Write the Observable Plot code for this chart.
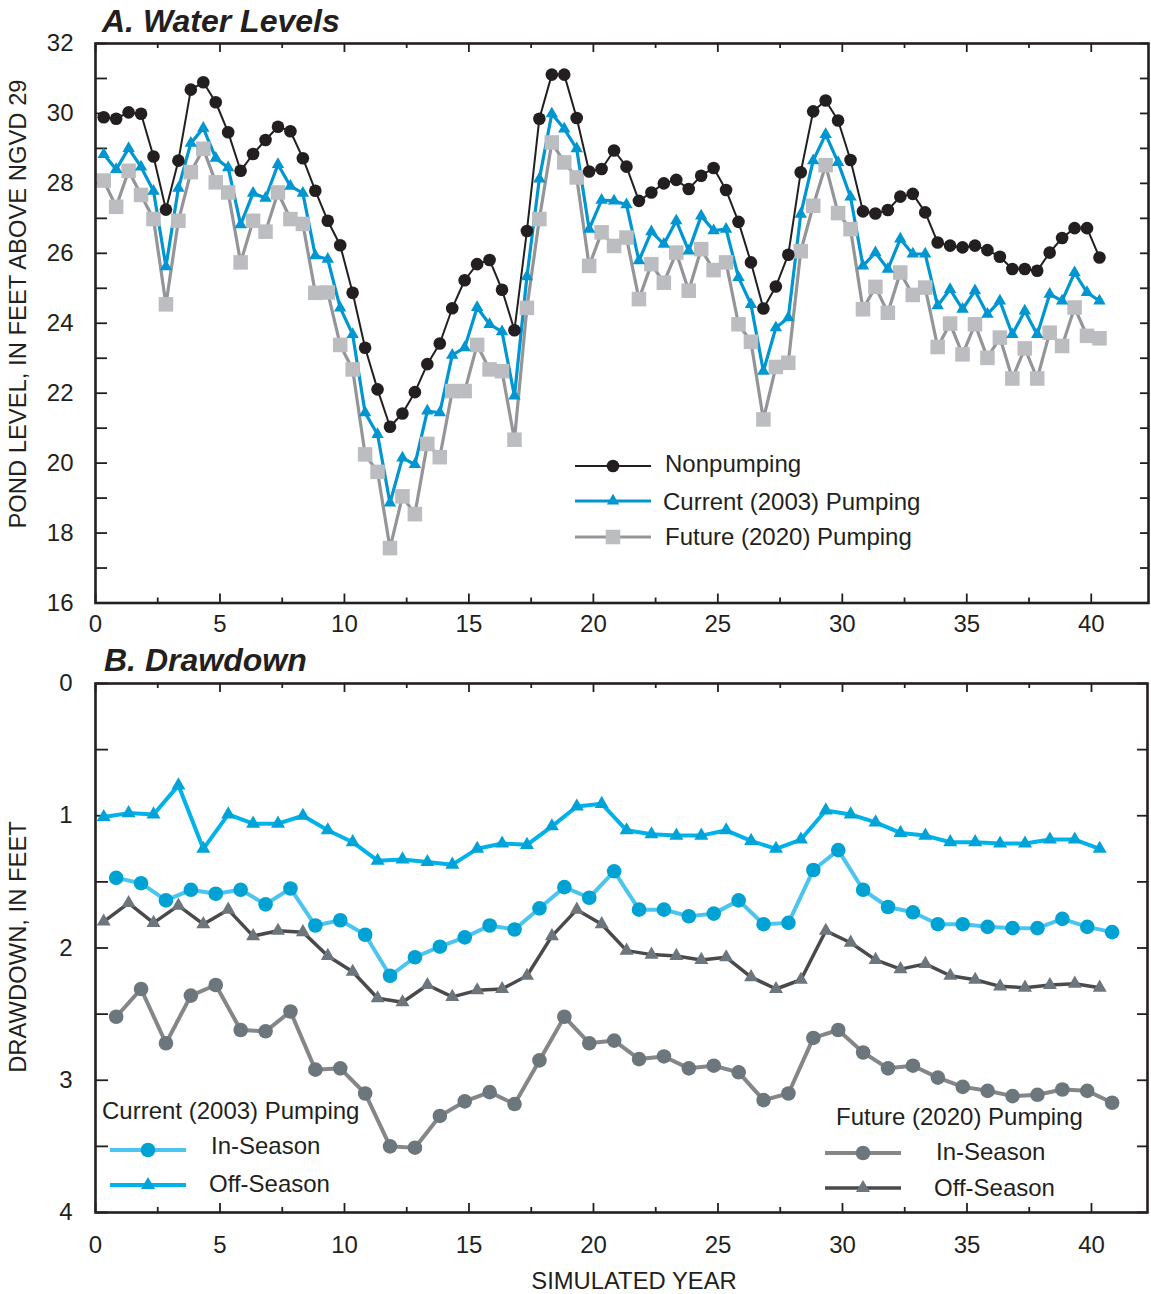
<!DOCTYPE html>
<html><head><meta charset="utf-8">
<script src="https://cdn.jsdelivr.net/npm/d3@7"></script>
<script src="https://cdn.jsdelivr.net/npm/@observablehq/plot@0.6"></script>
<style>
body{margin:0;background:#fff;}
#wrap{position:relative;width:1151px;height:1294px;font-family:"Liberation Sans",Arial,Helvetica,sans-serif;color:#231f20;overflow:hidden;background:#fff;}
#wrap svg{position:absolute;left:0;}
.t{position:absolute;white-space:nowrap;line-height:1;transform:translateY(-50%);}
.rot{position:absolute;white-space:nowrap;line-height:1;transform:translate(-50%,-50%) rotate(-90deg);}
</style></head><body><div id="wrap"></div>
<script>
// ---------- DATA ----------
// Panel A: simulated time (years), half-year steps
const yearsA = [0.33,0.83,1.33,1.83,2.33,2.83,3.33,3.83,4.33,4.83,
  5.33,5.83,6.33,6.83,7.33,7.83,8.33,8.83,9.33,9.83,
  10.33,10.83,11.33,11.83,12.33,12.83,13.33,13.83,14.33,14.83,
  15.33,15.83,16.33,16.83,17.33,17.83,18.33,18.83,19.33,19.83,
  20.33,20.83,21.33,21.83,22.33,22.83,23.33,23.83,24.33,24.83,
  25.33,25.83,26.33,26.83,27.33,27.83,28.33,28.83,29.33,29.83,
  30.33,30.83,31.33,31.83,32.33,32.83,33.33,33.83,34.33,34.83,
  35.33,35.83,36.33,36.83,37.33,37.83,38.33,38.83,39.33,39.83,
  40.33];
const nonpumping = [29.89,29.85,30.03,29.99,28.77,27.25,28.65,30.68,30.89,30.32,
  29.46,28.36,28.84,29.24,29.62,29.49,28.72,27.79,26.93,26.23,
  24.87,23.30,22.11,21.04,21.42,22.03,22.83,23.42,24.43,25.23,
  25.69,25.81,24.96,23.80,26.64,29.85,31.11,31.11,29.87,28.34,
  28.41,28.94,28.48,27.50,27.74,28.00,28.10,27.84,28.22,28.44,
  27.81,26.90,25.74,24.42,25.05,25.96,28.32,30.06,30.37,29.80,
  28.67,27.20,27.14,27.24,27.62,27.70,27.17,26.31,26.22,26.17,
  26.22,26.09,25.90,25.55,25.55,25.50,26.02,26.44,26.72,26.72,
  25.88];
const currentPumping = [28.83,28.40,29.00,28.47,27.78,25.62,27.86,29.15,29.58,28.72,
  28.45,26.82,27.72,27.58,28.54,27.92,27.72,25.93,25.83,24.44,
  23.68,21.44,20.82,18.86,20.15,19.96,21.49,21.44,23.09,23.30,
  24.45,23.97,23.76,21.92,25.33,28.13,29.99,29.56,28.99,26.69,
  27.52,27.50,27.39,25.79,26.62,26.26,26.93,26.07,27.07,26.65,
  26.69,25.31,24.54,22.63,23.87,24.16,27.12,28.65,29.40,28.60,
  27.61,25.64,26.02,25.55,26.41,25.98,25.98,24.50,24.97,24.40,
  24.93,24.26,24.64,23.68,24.35,23.68,24.83,24.64,25.45,24.88,
  24.64];
const futurePumping = [28.08,27.33,28.36,27.67,26.98,24.54,26.93,28.32,28.99,28.03,
  27.74,25.74,26.93,26.62,27.74,26.98,26.84,24.87,24.88,23.38,
  22.68,20.25,19.75,17.57,19.05,18.54,20.55,20.17,22.06,22.06,
  23.38,22.68,22.63,20.67,24.44,26.98,29.17,28.60,28.17,25.64,
  26.60,26.21,26.45,24.69,25.69,25.16,26.02,24.93,26.12,25.52,
  25.74,23.97,23.47,21.25,22.75,22.87,26.06,27.36,28.52,27.15,
  26.69,24.40,25.04,24.30,25.45,24.81,25.02,23.32,23.99,23.11,
  23.97,23.01,23.59,22.42,23.28,22.42,23.73,23.35,24.45,23.64,
  23.57];

// Panel B: drawdown, in feet
const yearsOff = [0.33,1.33,2.33,3.33,4.33,5.33,6.33,7.33,8.33,9.33,
  10.33,11.33,12.33,13.33,14.33,15.33,16.33,17.33,18.33,19.33,
  20.33,21.33,22.33,23.33,24.33,25.33,26.33,27.33,28.33,29.33,
  30.33,31.33,32.33,33.33,34.33,35.33,36.33,37.33,38.33,39.33,40.33];
const yearsIn = [0.83,1.83,2.83,3.83,4.83,5.83,6.83,7.83,8.83,9.83,
  10.83,11.83,12.83,13.83,14.83,15.83,16.83,17.83,18.83,19.83,
  20.83,21.83,22.83,23.83,24.83,25.83,26.83,27.83,28.83,29.83,
  30.83,31.83,32.83,33.83,34.83,35.83,36.83,37.83,38.83,39.83,40.83];
const currentOffSeason = [1.01,0.98,0.99,0.77,1.25,0.99,1.06,1.06,1.00,1.11,
  1.20,1.34,1.33,1.35,1.37,1.25,1.21,1.22,1.08,0.93,
  0.91,1.11,1.14,1.15,1.15,1.11,1.19,1.25,1.18,0.96,
  0.99,1.05,1.13,1.15,1.20,1.20,1.21,1.21,1.18,1.18,1.25];
const currentInSeason = [1.47,1.51,1.64,1.56,1.59,1.56,1.67,1.55,1.83,1.79,
  1.90,2.21,2.07,1.99,1.92,1.83,1.86,1.70,1.54,1.62,
  1.42,1.71,1.71,1.76,1.74,1.64,1.82,1.81,1.41,1.26,
  1.56,1.69,1.73,1.82,1.82,1.84,1.85,1.85,1.78,1.84,1.88];
const futureOffSeason = [1.80,1.66,1.81,1.68,1.82,1.71,1.91,1.87,1.88,2.06,
  2.18,2.38,2.41,2.28,2.37,2.32,2.31,2.21,1.91,1.71,
  1.82,2.02,2.05,2.06,2.09,2.07,2.22,2.31,2.24,1.87,
  1.96,2.09,2.16,2.12,2.21,2.24,2.29,2.30,2.28,2.27,2.30];
const futureInSeason = [2.52,2.31,2.72,2.36,2.28,2.62,2.63,2.48,2.92,2.91,
  3.10,3.50,3.51,3.27,3.16,3.09,3.18,2.85,2.52,2.72,
  2.70,2.84,2.82,2.91,2.89,2.94,3.15,3.10,2.68,2.62,
  2.79,2.91,2.89,2.98,3.05,3.08,3.12,3.11,3.07,3.08,3.17];

// Tick values and labels
const xTickLabels = [0,5,10,15,20,25,30,35,40];
const xMinorTicks = [2.5,7.5,12.5,17.5,22.5,27.5,32.5,37.5];
const yTicksA = [16,17,18,19,20,21,22,23,24,25,26,27,28,29,30,31,32];
const yLabelsA = [16,18,20,22,24,26,28,30,32];
const yTicksB = [0,0.5,1,1.5,2,2.5,3,3.5,4];
const yLabelsB = [0,1,2,3,4];

// ---------- STYLE ----------
const INK = "#231f20";
const COL = {
  black: "#231f20", blue: "#0096d2", greyLine: "#939598", greySq: "#bcbdc0",
  curInLine: "#4bc5f0", curIn: "#00a2d4", curOffLine: "#00b2ea", curOff: "#00a3d7",
  futInLine: "#848688", futIn: "#6c777d", futOffLine: "#4a4a4c", futOff: "#6c767c"
};
const FONT = '"Liberation Sans", Arial, Helvetica, sans-serif';
const W = 1151;
const X0 = 95, X1 = 1148;
const XDOM = [0, 42.3];
const fmtInt = d => String(d);

const wrap = document.getElementById("wrap");
const pts = (xs, ys) => xs.map((x, i) => ({x, y: ys[i]}));

function frameTicks(h, w, yTicks, lenL, lenR) {
  return [
    Plot.tickX(xTickLabels, {x: d => d, insetTop: h - 9, stroke: INK, strokeWidth: 1.8}),
    Plot.tickX(xMinorTicks, {x: d => d, insetTop: h - 5, stroke: INK, strokeWidth: 1.8}),
    Plot.tickX(xTickLabels, {x: d => d, insetBottom: h - 9, stroke: INK, strokeWidth: 1.8}),
    Plot.tickX(xMinorTicks, {x: d => d, insetBottom: h - 5, stroke: INK, strokeWidth: 1.8}),
    Plot.tickY(yTicks, {y: d => d, insetRight: w - lenL, stroke: INK, strokeWidth: 1.8}),
    Plot.tickY(yTicks, {y: d => d, insetLeft: w - lenR, stroke: INK, strokeWidth: 1.8})
  ];
}

// ---------- PANEL A ----------
const A_TOP = 43, A_BOT = 602.5, A_H = 640;
const dataNon = pts(yearsA, nonpumping);
const dataCur = pts(yearsA, currentPumping);
const dataFut = pts(yearsA, futurePumping);
const plotA = Plot.plot({
  width: W, height: A_H,
  marginLeft: X0, marginRight: W - X1, marginTop: A_TOP, marginBottom: A_H - A_BOT,
  x: {domain: XDOM},
  y: {domain: [16, 32]},
  style: {fontFamily: FONT, fontSize: "24px", color: INK, background: "transparent", overflow: "visible"},
  marks: [
    ...frameTicks(A_BOT - A_TOP, X1 - X0, yTicksA, 12, 8),
    Plot.axisX({ticks: xTickLabels, tickSize: 0, tickPadding: 12, label: null, fill: INK, tickFormat: fmtInt}),
    Plot.axisY({ticks: yLabelsA, tickSize: 0, tickPadding: 22, label: null, fill: INK, tickFormat: fmtInt}),
    Plot.line(dataFut, {x: "x", y: "y", stroke: COL.greyLine, strokeWidth: 3.2}),
    Plot.line(dataCur, {x: "x", y: "y", stroke: COL.blue, strokeWidth: 3.2}),
    Plot.line(dataNon, {x: "x", y: "y", stroke: COL.black, strokeWidth: 2}),
    Plot.dot(dataFut, {x: "x", y: "y", symbol: "square", r: 8.2, fill: COL.greySq}),
    Plot.dot(dataCur, {x: "x", y: "y", symbol: "triangle", r: 4.6, fill: COL.blue}),
    Plot.dot(dataNon, {x: "x", y: "y", symbol: "circle", r: 6.3, fill: COL.black}),
    Plot.frame({stroke: INK, strokeWidth: 2.6})
  ]
});
plotA.style.top = "0px";
wrap.appendChild(plotA);

// ---------- PANEL B ----------
const B_OFF = 640, B_TOP = 683, B_BOT = 1212, B_H = 1294 - B_OFF;
const dCurOff = pts(yearsOff, currentOffSeason);
const dCurIn = pts(yearsIn, currentInSeason);
const dFutOff = pts(yearsOff, futureOffSeason);
const dFutIn = pts(yearsIn, futureInSeason);
const plotB = Plot.plot({
  width: W, height: B_H,
  marginLeft: X0, marginRight: W - 1147, marginTop: B_TOP - B_OFF, marginBottom: 1294 - B_BOT,
  x: {domain: [0, 42.25]},
  y: {domain: [0, 4], reverse: true},
  style: {fontFamily: FONT, fontSize: "24px", color: INK, background: "transparent", overflow: "visible"},
  marks: [
    ...frameTicks(B_BOT - B_TOP, 1147 - X0, yTicksB, 13, 10),
    Plot.axisX({ticks: xTickLabels, tickSize: 0, tickPadding: 23, label: null, fill: INK, tickFormat: fmtInt}),
    Plot.axisY({ticks: yLabelsB, tickSize: 0, tickPadding: 23, label: null, fill: INK, tickFormat: fmtInt}),
    Plot.line(dFutIn, {x: "x", y: "y", stroke: COL.futInLine, strokeWidth: 4}),
    Plot.dot(dFutIn, {x: "x", y: "y", symbol: "circle", r: 7.3, fill: COL.futIn}),
    Plot.line(dFutOff, {x: "x", y: "y", stroke: COL.futOffLine, strokeWidth: 3.5}),
    Plot.dot(dFutOff, {x: "x", y: "y", symbol: "triangle", r: 5.2, fill: COL.futOff}),
    Plot.line(dCurIn, {x: "x", y: "y", stroke: COL.curInLine, strokeWidth: 4}),
    Plot.dot(dCurIn, {x: "x", y: "y", symbol: "circle", r: 7.3, fill: COL.curIn}),
    Plot.line(dCurOff, {x: "x", y: "y", stroke: COL.curOffLine, strokeWidth: 4}),
    Plot.dot(dCurOff, {x: "x", y: "y", symbol: "triangle", r: 5.2, fill: COL.curOff}),
    Plot.frame({stroke: INK, strokeWidth: 2.6})
  ]
});
plotB.style.top = B_OFF + "px";
wrap.appendChild(plotB);

// ---------- TEXT ----------
function txt(s, left, cy, size, extra) {
  const d = document.createElement("div");
  d.className = "t";
  d.textContent = s;
  d.style.left = left + "px";
  d.style.top = cy + "px";
  d.style.fontSize = size + "px";
  if (extra) Object.assign(d.style, extra);
  wrap.appendChild(d);
  return d;
}
function rot(s, cx, cy, size) {
  const d = document.createElement("div");
  d.className = "rot";
  d.textContent = s;
  d.style.left = cx + "px";
  d.style.top = cy + "px";
  d.style.fontSize = size + "px";
  wrap.appendChild(d);
}
txt("A. Water Levels", 102, 21, 32, {fontWeight: "bold", fontStyle: "italic"});
txt("B. Drawdown", 104, 660, 32, {fontWeight: "bold", fontStyle: "italic"});
rot("POND LEVEL, IN FEET ABOVE NGVD 29", 18, 304, 23.8);
rot("DRAWDOWN, IN FEET", 18, 947, 23.8);
const xl = txt("SIMULATED YEAR", 634, 1281, 23.8);
xl.style.transform = "translate(-50%,-50%)";

// legend A
txt("Nonpumping", 665, 464, 24);
txt("Current (2003) Pumping", 663, 502, 24);
txt("Future (2020) Pumping", 665, 537, 24);
// legend B
txt("Current (2003) Pumping", 102, 1111, 24);
txt("In-Season", 211, 1146, 24);
txt("Off-Season", 209, 1184, 24);
txt("Future (2020) Pumping", 836, 1117, 24);
txt("In-Season", 936, 1152, 24);
txt("Off-Season", 934, 1188, 24);

// legend samples
const lg = d3.select(wrap).append("svg")
  .attr("width", W).attr("height", 1294)
  .style("top", "0px").style("pointer-events", "none");
function sample(x1, x2, y, stroke, sw, symbol, r, fill) {
  lg.append("line").attr("x1", x1).attr("x2", x2).attr("y1", y).attr("y2", y)
    .attr("stroke", stroke).attr("stroke-width", sw);
  lg.append("path").attr("d", d3.symbol(symbol, Math.PI * r * r)())
    .attr("transform", `translate(${(x1 + x2) / 2},${y})`).attr("fill", fill);
}
sample(575, 651, 466, COL.black, 2, d3.symbolCircle, 6.3, COL.black);
sample(575, 651, 501, COL.blue, 3.2, d3.symbolTriangle, 4.6, COL.blue);
sample(575, 651, 537, COL.greyLine, 3.2, d3.symbolSquare, 8.2, COL.greySq);
sample(110, 186, 1150, COL.curInLine, 4, d3.symbolCircle, 7.3, COL.curIn);
sample(110, 186, 1185, COL.curOffLine, 4, d3.symbolTriangle, 5.2, COL.curOff);
sample(825, 901, 1153, COL.futInLine, 4, d3.symbolCircle, 7.3, COL.futIn);
sample(825, 901, 1188, COL.futOffLine, 3.5, d3.symbolTriangle, 5.2, COL.futOff);
</script>
</body></html>
